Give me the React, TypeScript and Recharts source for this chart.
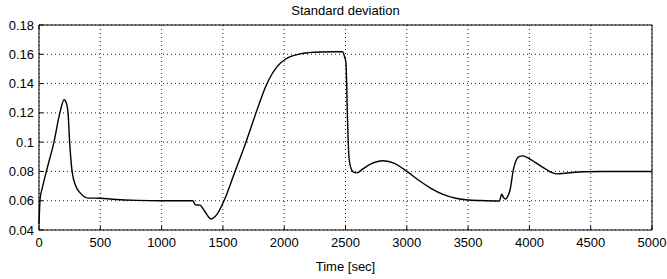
import { LineChart, Line, XAxis, YAxis, CartesianGrid } from "recharts";

// sample times (s) and the std value
const times = [
  0, 10, 25, 60, 122, 170, 205, 222, 237, 250, 270, 300, 340, 400, 500, 600, 800, 1000, 1255, 1275,
  1313, 1350, 1403, 1450, 1509, 1599, 1688, 1770, 1810, 1850, 1890, 1930, 1970, 2010, 2060, 2130, 2200,
  2300, 2400, 2477, 2490, 2504, 2515, 2528, 2545, 2565, 2591, 2650, 2700, 2806, 2900, 2950, 3000, 3100,
  3200, 3300, 3400, 3500, 3600, 3755, 3774, 3790, 3805, 3820, 3842, 3869, 3896, 3920, 3945, 4000, 4050,
  4100, 4150, 4190, 4230, 4280, 4350, 4450, 4600, 5000,
];
const stdDev = [
  0.044, 0.062, 0.068, 0.08, 0.1, 0.12, 0.129, 0.127, 0.12, 0.1, 0.08, 0.07, 0.065, 0.0618, 0.0617, 0.061,
  0.0602, 0.06, 0.06, 0.0572, 0.057, 0.053, 0.0475, 0.0505, 0.06, 0.08, 0.1, 0.12, 0.1295, 0.1382, 0.145,
  0.1502, 0.154, 0.1566, 0.1587, 0.1603, 0.1611, 0.1616, 0.1617, 0.1617, 0.159, 0.154, 0.12, 0.09, 0.082,
  0.0795, 0.079, 0.0822, 0.0848, 0.0873, 0.0855, 0.083, 0.08, 0.0738, 0.0683, 0.0642, 0.0617, 0.0605,
  0.0601, 0.0598, 0.0644, 0.062, 0.0612, 0.0625, 0.0673, 0.081, 0.0883, 0.0903, 0.0906, 0.0886, 0.086,
  0.0833, 0.0808, 0.079, 0.0783, 0.0787, 0.0793, 0.0798, 0.08, 0.08,
];
const xTicks = [0, 500, 1000, 1500, 2000, 2500, 3000, 3500, 4000, 4500, 5000];
const yTicks = [0.04, 0.06, 0.08, 0.1, 0.12, 0.14, 0.16, 0.18];

const data = times.map((t, i) => ({ t, sd: stdDev[i] }));

const font = "'Liberation Sans', Arial, Helvetica, sans-serif";
const tickStyle = { fill: "#000", fontSize: 13, fontFamily: font };
const blank = () => "";

export default function App() {
  return (
    <div style={{ position: "absolute", left: 0, top: 0 }}>
      <LineChart width={667} height={279} data={data} margin={{ top: 24, right: 14, bottom: 29, left: 0 }}>
        <CartesianGrid stroke="#222" strokeDasharray="1 3" horizontalValues={yTicks} verticalValues={xTicks} />
        <XAxis
          dataKey="t"
          type="number"
          domain={[0, 5000]}
          ticks={xTicks}
          height={20}
          stroke="#000"
          tickSize={-4}
          tickMargin={12}
          tick={tickStyle}
          label={{ value: "Time [sec]", position: "bottom", offset: 12, fill: "#000", fontSize: 13, fontFamily: font }}
        />
        <XAxis
          xAxisId="top"
          orientation="top"
          type="number"
          domain={[0, 5000]}
          ticks={xTicks}
          height={1}
          stroke="#000"
          tickSize={-4}
          tickFormatter={blank}
          label={{ value: "Standard deviation", position: "top", offset: 9, fill: "#000", fontSize: 13, fontFamily: font }}
        />
        <YAxis
          type="number"
          domain={[0.04, 0.18]}
          ticks={yTicks}
          width={39}
          stroke="#000"
          tickSize={-4}
          tickMargin={9}
          tick={tickStyle}
          tickFormatter={(v: number) => String(Number(v.toFixed(2)))}
        />
        <YAxis
          yAxisId="right"
          orientation="right"
          type="number"
          domain={[0.04, 0.18]}
          ticks={yTicks}
          width={1}
          stroke="#000"
          tickSize={-4}
          tickFormatter={blank}
        />
        <Line
          type="monotone"
          dataKey="sd"
          stroke="#000"
          strokeWidth={1.4}
          dot={false}
          isAnimationActive={false}
        />
      </LineChart>
    </div>
  );
}
